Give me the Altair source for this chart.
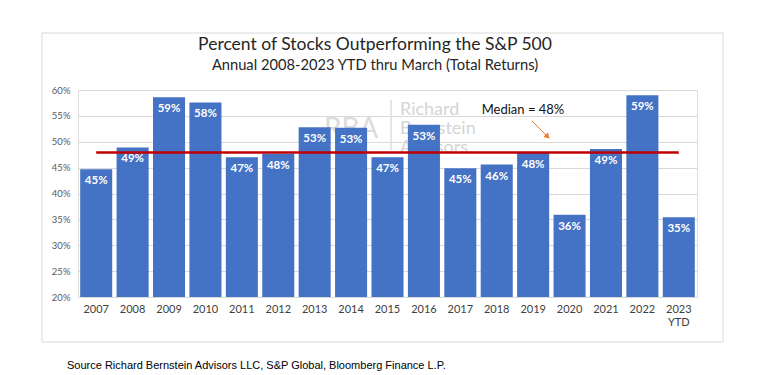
import altair as alt
import pandas as pd

years = ["2007", "2008", "2009", "2010", "2011", "2012", "2013", "2014", "2015",
         "2016", "2017", "2018", "2019", "2020", "2021", "2022", "2023"]
values = [44.7, 48.9, 58.6, 57.6, 47.0, 47.7, 52.8, 52.7, 47.0,
          53.3, 44.9, 45.6, 47.9, 35.9, 48.6, 59.0, 35.4]
median_value = 47.9
median_label = "Median = 48%"
title_text = "Percent of Stocks Outperforming the S&P 500"
subtitle_text = "Annual 2008-2023 YTD thru March (Total Returns)"
source_text = "Source Richard Bernstein Advisors LLC, S&P Global, Bloomberg Finance L.P."
y_ticks = [20, 25, 30, 35, 40, 45, 50, 55, 60]

df = pd.DataFrame({"year": years, "value": values})
df["label"] = [f"{round(v):.0f}%" for v in values]

W, H = 619, 207
x_axis = alt.Axis(title=None, ticks=False, labelAngle=0, labelFontSize=11,
                  labelColor="#404040", labelFont="Lato", labelPadding=6,
                  domainColor="#d9d9d9", grid=False,
                  labelExpr="datum.value == '2023' ? ['2023', 'YTD'] : datum.value")
y_axis = alt.Axis(title=None, values=y_ticks, ticks=False, domain=False,
                  labelExpr="datum.value + '%'", labelFontSize=9.5, labelOverlap=False,
                  labelColor="#595959", labelFont="Lato", labelPadding=8,
                  gridColor="#d9d9d9", gridWidth=1)
x_scale = alt.Scale(paddingInner=0.12, paddingOuter=0.06)
y_scale = alt.Scale(domain=[20, 60], nice=False, clamp=True)
xs = alt.X("year:N", sort=years, scale=x_scale, axis=x_axis)
ys = alt.Y("value:Q", scale=y_scale, axis=y_axis)

base = alt.Chart(df)

one = pd.DataFrame({"k": [0]})

frame = alt.Chart(one).mark_rect(
    fillOpacity=0, stroke="#d9d9d9", strokeWidth=1
).encode(x=alt.value(-36), x2=alt.value(645), y=alt.value(-57), y2=alt.value(252))

title = alt.Chart(pd.DataFrame({"t": [title_text]})).mark_text(
    font="Lato", fontSize=17.5, color="#262626", align="center", baseline="middle"
).encode(x=alt.value(297), y=alt.value(-45), text="t:N")
subtitle = alt.Chart(pd.DataFrame({"t": [subtitle_text]})).mark_text(
    font="Lato", fontSize=14.7, color="#262626", align="center", baseline="middle"
).encode(x=alt.value(297), y=alt.value(-24), text="t:N")

wm_lines = ["Richard", "Bernstein", "Advisors"]
wm_r = alt.Chart(pd.DataFrame({"t": [wm_lines[0]]})).mark_text(
    align="left", baseline="middle", font="Lato", fontSize=18, color="#d4d4d4"
).encode(x=alt.value(322), y=alt.value(20), text="t:N")
wm_b = alt.Chart(pd.DataFrame({"t": [wm_lines[1]]})).mark_text(
    align="left", baseline="middle", font="Lato", fontSize=18, color="#d4d4d4"
).encode(x=alt.value(322), y=alt.value(39), text="t:N")
wm_a = alt.Chart(pd.DataFrame({"t": [wm_lines[2]]})).mark_text(
    align="left", baseline="middle", font="Lato", fontSize=18, color="#d4d4d4"
).encode(x=alt.value(322), y=alt.value(58), text="t:N")
wm_logo = alt.Chart(pd.DataFrame({"t": ["RBA"]})).mark_text(
    align="left", baseline="middle", font="Lato", fontSize=28, color="#dcdcdc"
).encode(x=alt.value(246), y=alt.value(40), text="t:N")
wm_bar = alt.Chart(one).mark_rule(color="#dcdcdc", strokeWidth=1.5).encode(
    x=alt.value(313), y=alt.value(10), y2=alt.value(60))

bars = base.mark_bar(color="#4472C4").encode(x=xs, y=ys)
labels = base.mark_text(color="white", fontWeight="bold", font="Lato", fontSize=11.5,
                        baseline="middle", dy=12).encode(x=xs, y=ys, text="label:N")

med_df = pd.DataFrame({"a": [years[0]], "b": [years[-1]], "m": [median_value]})
median = alt.Chart(med_df).mark_rule(color="#C00000", strokeWidth=2.5).encode(
    x=alt.X("a:N", sort=years, bandPosition=0.5, scale=x_scale, axis=x_axis), x2="b:N",
    y=alt.Y("m:Q", scale=y_scale, axis=y_axis))

ann = alt.Chart(pd.DataFrame({"t": [median_label]})).mark_text(
    font="Lato", fontSize=13, color="#111111", baseline="middle", align="center"
).encode(x=alt.value(445), y=alt.value(20), text="t:N")
arrow = alt.Chart(one).mark_rule(color="#ED7D31", strokeWidth=1).encode(
    x=alt.value(454), x2=alt.value(468), y=alt.value(31), y2=alt.value(45))
head = alt.Chart(one).mark_point(
    shape="triangle", filled=True, color="#ED7D31", size=40, angle=135, opacity=1
).encode(x=alt.value(469), y=alt.value(46))

source = alt.Chart(pd.DataFrame({"t": [source_text]})).mark_text(
    font="Liberation Sans", fontSize=11, color="#000000", align="left", baseline="middle"
).encode(x=alt.value(-11), y=alt.value(276), text="t:N")

chart = alt.layer(
    frame, title, subtitle, wm_logo, wm_bar, wm_r, wm_b, wm_a,
    bars, labels, median, ann, arrow, head, source
).properties(
    width=W, height=H,
    autosize=alt.AutoSizeParams(type="none"),
    padding={"left": 70, "top": 82, "right": 64, "bottom": 80},
).configure_view(stroke=None).configure(background="white")

chart.save("out.html", embed_options={"renderer": "svg", "actions": False})
